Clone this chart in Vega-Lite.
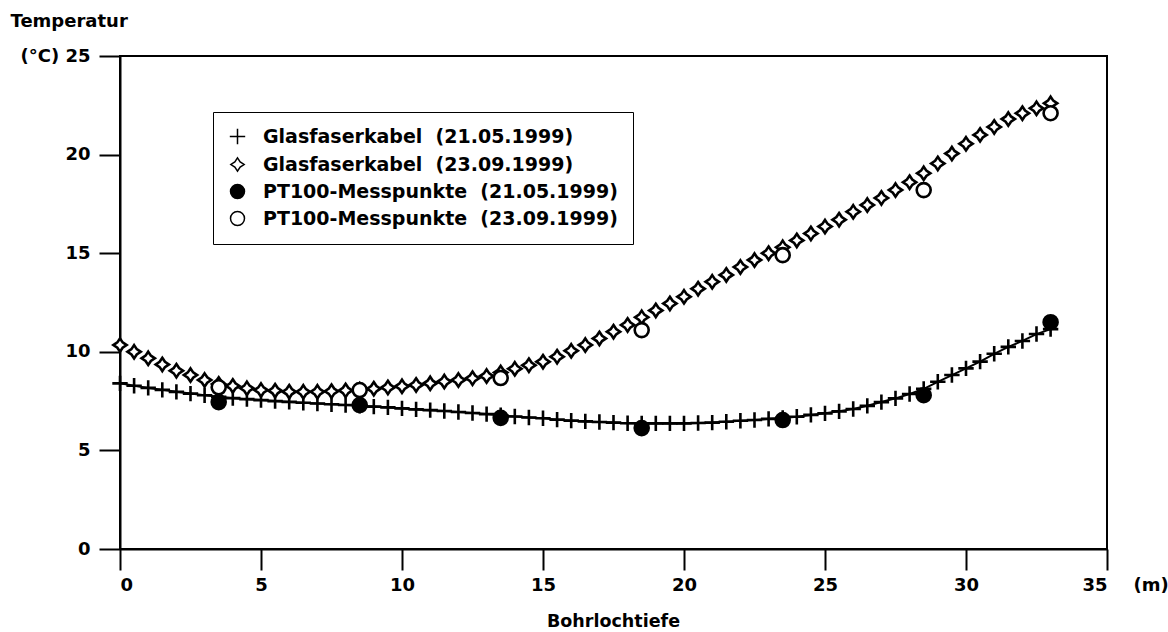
{
  "$schema": "https://vega.github.io/schema/vega-lite/v6.json",
  "autosize": "none",
  "width": 987,
  "height": 493,
  "padding": {"left": 120, "top": 56, "right": 61, "bottom": 83},
  "background": "white",
  "title": {"text": "Bohrlochtiefe", "orient": "bottom", "anchor": "middle", "font": "DejaVu Sans", "fontSize": 17.5, "fontWeight": "bold", "color": "black", "offset": 19},
  "config": {
    "view": {"stroke": "black", "strokeWidth": 2},
    "axis": {"grid": false, "domainColor": "black", "domainWidth": 2, "tickColor": "black", "tickWidth": 2, "tickSize": 21, "labelFont": "DejaVu Sans", "labelFontSize": 18, "labelFontWeight": "bold", "labelColor": "black", "titleFont": "DejaVu Sans", "titleFontSize": 18, "titleFontWeight": "bold", "titleColor": "black"}
  },
  "data": {"values": [
    {"tiefe": 0, "temp": 8.4, "serie": "Glasfaserkabel\u00a0 (21.05.1999)"},
    {"tiefe": 0.5, "temp": 8.28, "serie": "Glasfaserkabel\u00a0 (21.05.1999)"},
    {"tiefe": 1, "temp": 8.17, "serie": "Glasfaserkabel\u00a0 (21.05.1999)"},
    {"tiefe": 1.5, "temp": 8.07, "serie": "Glasfaserkabel\u00a0 (21.05.1999)"},
    {"tiefe": 2, "temp": 7.97, "serie": "Glasfaserkabel\u00a0 (21.05.1999)"},
    {"tiefe": 2.5, "temp": 7.88, "serie": "Glasfaserkabel\u00a0 (21.05.1999)"},
    {"tiefe": 3, "temp": 7.8, "serie": "Glasfaserkabel\u00a0 (21.05.1999)"},
    {"tiefe": 3.5, "temp": 7.72, "serie": "Glasfaserkabel\u00a0 (21.05.1999)"},
    {"tiefe": 4, "temp": 7.65, "serie": "Glasfaserkabel\u00a0 (21.05.1999)"},
    {"tiefe": 4.5, "temp": 7.6, "serie": "Glasfaserkabel\u00a0 (21.05.1999)"},
    {"tiefe": 5, "temp": 7.55, "serie": "Glasfaserkabel\u00a0 (21.05.1999)"},
    {"tiefe": 5.5, "temp": 7.5, "serie": "Glasfaserkabel\u00a0 (21.05.1999)"},
    {"tiefe": 6, "temp": 7.46, "serie": "Glasfaserkabel\u00a0 (21.05.1999)"},
    {"tiefe": 6.5, "temp": 7.42, "serie": "Glasfaserkabel\u00a0 (21.05.1999)"},
    {"tiefe": 7, "temp": 7.38, "serie": "Glasfaserkabel\u00a0 (21.05.1999)"},
    {"tiefe": 7.5, "temp": 7.34, "serie": "Glasfaserkabel\u00a0 (21.05.1999)"},
    {"tiefe": 8, "temp": 7.3, "serie": "Glasfaserkabel\u00a0 (21.05.1999)"},
    {"tiefe": 8.5, "temp": 7.26, "serie": "Glasfaserkabel\u00a0 (21.05.1999)"},
    {"tiefe": 9, "temp": 7.22, "serie": "Glasfaserkabel\u00a0 (21.05.1999)"},
    {"tiefe": 9.5, "temp": 7.18, "serie": "Glasfaserkabel\u00a0 (21.05.1999)"},
    {"tiefe": 10, "temp": 7.13, "serie": "Glasfaserkabel\u00a0 (21.05.1999)"},
    {"tiefe": 10.5, "temp": 7.08, "serie": "Glasfaserkabel\u00a0 (21.05.1999)"},
    {"tiefe": 11, "temp": 7.04, "serie": "Glasfaserkabel\u00a0 (21.05.1999)"},
    {"tiefe": 11.5, "temp": 7.0, "serie": "Glasfaserkabel\u00a0 (21.05.1999)"},
    {"tiefe": 12, "temp": 6.95, "serie": "Glasfaserkabel\u00a0 (21.05.1999)"},
    {"tiefe": 12.5, "temp": 6.9, "serie": "Glasfaserkabel\u00a0 (21.05.1999)"},
    {"tiefe": 13, "temp": 6.84, "serie": "Glasfaserkabel\u00a0 (21.05.1999)"},
    {"tiefe": 13.5, "temp": 6.78, "serie": "Glasfaserkabel\u00a0 (21.05.1999)"},
    {"tiefe": 14, "temp": 6.72, "serie": "Glasfaserkabel\u00a0 (21.05.1999)"},
    {"tiefe": 14.5, "temp": 6.67, "serie": "Glasfaserkabel\u00a0 (21.05.1999)"},
    {"tiefe": 15, "temp": 6.63, "serie": "Glasfaserkabel\u00a0 (21.05.1999)"},
    {"tiefe": 15.5, "temp": 6.56, "serie": "Glasfaserkabel\u00a0 (21.05.1999)"},
    {"tiefe": 16, "temp": 6.51, "serie": "Glasfaserkabel\u00a0 (21.05.1999)"},
    {"tiefe": 16.5, "temp": 6.47, "serie": "Glasfaserkabel\u00a0 (21.05.1999)"},
    {"tiefe": 17, "temp": 6.44, "serie": "Glasfaserkabel\u00a0 (21.05.1999)"},
    {"tiefe": 17.5, "temp": 6.41, "serie": "Glasfaserkabel\u00a0 (21.05.1999)"},
    {"tiefe": 18, "temp": 6.38, "serie": "Glasfaserkabel\u00a0 (21.05.1999)"},
    {"tiefe": 18.5, "temp": 6.37, "serie": "Glasfaserkabel\u00a0 (21.05.1999)"},
    {"tiefe": 19, "temp": 6.37, "serie": "Glasfaserkabel\u00a0 (21.05.1999)"},
    {"tiefe": 19.5, "temp": 6.37, "serie": "Glasfaserkabel\u00a0 (21.05.1999)"},
    {"tiefe": 20, "temp": 6.37, "serie": "Glasfaserkabel\u00a0 (21.05.1999)"},
    {"tiefe": 20.5, "temp": 6.39, "serie": "Glasfaserkabel\u00a0 (21.05.1999)"},
    {"tiefe": 21, "temp": 6.41, "serie": "Glasfaserkabel\u00a0 (21.05.1999)"},
    {"tiefe": 21.5, "temp": 6.45, "serie": "Glasfaserkabel\u00a0 (21.05.1999)"},
    {"tiefe": 22, "temp": 6.5, "serie": "Glasfaserkabel\u00a0 (21.05.1999)"},
    {"tiefe": 22.5, "temp": 6.54, "serie": "Glasfaserkabel\u00a0 (21.05.1999)"},
    {"tiefe": 23, "temp": 6.6, "serie": "Glasfaserkabel\u00a0 (21.05.1999)"},
    {"tiefe": 23.5, "temp": 6.64, "serie": "Glasfaserkabel\u00a0 (21.05.1999)"},
    {"tiefe": 24, "temp": 6.71, "serie": "Glasfaserkabel\u00a0 (21.05.1999)"},
    {"tiefe": 24.5, "temp": 6.8, "serie": "Glasfaserkabel\u00a0 (21.05.1999)"},
    {"tiefe": 25, "temp": 6.88, "serie": "Glasfaserkabel\u00a0 (21.05.1999)"},
    {"tiefe": 25.5, "temp": 6.98, "serie": "Glasfaserkabel\u00a0 (21.05.1999)"},
    {"tiefe": 26, "temp": 7.1, "serie": "Glasfaserkabel\u00a0 (21.05.1999)"},
    {"tiefe": 26.5, "temp": 7.26, "serie": "Glasfaserkabel\u00a0 (21.05.1999)"},
    {"tiefe": 27, "temp": 7.45, "serie": "Glasfaserkabel\u00a0 (21.05.1999)"},
    {"tiefe": 27.5, "temp": 7.64, "serie": "Glasfaserkabel\u00a0 (21.05.1999)"},
    {"tiefe": 28, "temp": 7.86, "serie": "Glasfaserkabel\u00a0 (21.05.1999)"},
    {"tiefe": 28.5, "temp": 8.12, "serie": "Glasfaserkabel\u00a0 (21.05.1999)"},
    {"tiefe": 29, "temp": 8.48, "serie": "Glasfaserkabel\u00a0 (21.05.1999)"},
    {"tiefe": 29.5, "temp": 8.82, "serie": "Glasfaserkabel\u00a0 (21.05.1999)"},
    {"tiefe": 30, "temp": 9.16, "serie": "Glasfaserkabel\u00a0 (21.05.1999)"},
    {"tiefe": 30.5, "temp": 9.5, "serie": "Glasfaserkabel\u00a0 (21.05.1999)"},
    {"tiefe": 31, "temp": 9.9, "serie": "Glasfaserkabel\u00a0 (21.05.1999)"},
    {"tiefe": 31.5, "temp": 10.25, "serie": "Glasfaserkabel\u00a0 (21.05.1999)"},
    {"tiefe": 32, "temp": 10.55, "serie": "Glasfaserkabel\u00a0 (21.05.1999)"},
    {"tiefe": 32.5, "temp": 10.9, "serie": "Glasfaserkabel\u00a0 (21.05.1999)"},
    {"tiefe": 33, "temp": 11.15, "serie": "Glasfaserkabel\u00a0 (21.05.1999)"},
    {"tiefe": 0, "temp": 10.34, "serie": "Glasfaserkabel\u00a0 (23.09.1999)"},
    {"tiefe": 0.5, "temp": 10.0, "serie": "Glasfaserkabel\u00a0 (23.09.1999)"},
    {"tiefe": 1, "temp": 9.67, "serie": "Glasfaserkabel\u00a0 (23.09.1999)"},
    {"tiefe": 1.5, "temp": 9.36, "serie": "Glasfaserkabel\u00a0 (23.09.1999)"},
    {"tiefe": 2, "temp": 9.04, "serie": "Glasfaserkabel\u00a0 (23.09.1999)"},
    {"tiefe": 2.5, "temp": 8.82, "serie": "Glasfaserkabel\u00a0 (23.09.1999)"},
    {"tiefe": 3, "temp": 8.57, "serie": "Glasfaserkabel\u00a0 (23.09.1999)"},
    {"tiefe": 3.5, "temp": 8.37, "serie": "Glasfaserkabel\u00a0 (23.09.1999)"},
    {"tiefe": 4, "temp": 8.27, "serie": "Glasfaserkabel\u00a0 (23.09.1999)"},
    {"tiefe": 4.5, "temp": 8.15, "serie": "Glasfaserkabel\u00a0 (23.09.1999)"},
    {"tiefe": 5, "temp": 8.06, "serie": "Glasfaserkabel\u00a0 (23.09.1999)"},
    {"tiefe": 5.5, "temp": 8.03, "serie": "Glasfaserkabel\u00a0 (23.09.1999)"},
    {"tiefe": 6, "temp": 7.98, "serie": "Glasfaserkabel\u00a0 (23.09.1999)"},
    {"tiefe": 6.5, "temp": 7.97, "serie": "Glasfaserkabel\u00a0 (23.09.1999)"},
    {"tiefe": 7, "temp": 7.97, "serie": "Glasfaserkabel\u00a0 (23.09.1999)"},
    {"tiefe": 7.5, "temp": 8.0, "serie": "Glasfaserkabel\u00a0 (23.09.1999)"},
    {"tiefe": 8, "temp": 8.04, "serie": "Glasfaserkabel\u00a0 (23.09.1999)"},
    {"tiefe": 8.5, "temp": 8.08, "serie": "Glasfaserkabel\u00a0 (23.09.1999)"},
    {"tiefe": 9, "temp": 8.13, "serie": "Glasfaserkabel\u00a0 (23.09.1999)"},
    {"tiefe": 9.5, "temp": 8.19, "serie": "Glasfaserkabel\u00a0 (23.09.1999)"},
    {"tiefe": 10, "temp": 8.25, "serie": "Glasfaserkabel\u00a0 (23.09.1999)"},
    {"tiefe": 10.5, "temp": 8.32, "serie": "Glasfaserkabel\u00a0 (23.09.1999)"},
    {"tiefe": 11, "temp": 8.4, "serie": "Glasfaserkabel\u00a0 (23.09.1999)"},
    {"tiefe": 11.5, "temp": 8.49, "serie": "Glasfaserkabel\u00a0 (23.09.1999)"},
    {"tiefe": 12, "temp": 8.57, "serie": "Glasfaserkabel\u00a0 (23.09.1999)"},
    {"tiefe": 12.5, "temp": 8.66, "serie": "Glasfaserkabel\u00a0 (23.09.1999)"},
    {"tiefe": 13, "temp": 8.77, "serie": "Glasfaserkabel\u00a0 (23.09.1999)"},
    {"tiefe": 13.5, "temp": 8.95, "serie": "Glasfaserkabel\u00a0 (23.09.1999)"},
    {"tiefe": 14, "temp": 9.14, "serie": "Glasfaserkabel\u00a0 (23.09.1999)"},
    {"tiefe": 14.5, "temp": 9.32, "serie": "Glasfaserkabel\u00a0 (23.09.1999)"},
    {"tiefe": 15, "temp": 9.5, "serie": "Glasfaserkabel\u00a0 (23.09.1999)"},
    {"tiefe": 15.5, "temp": 9.75, "serie": "Glasfaserkabel\u00a0 (23.09.1999)"},
    {"tiefe": 16, "temp": 10.05, "serie": "Glasfaserkabel\u00a0 (23.09.1999)"},
    {"tiefe": 16.5, "temp": 10.34, "serie": "Glasfaserkabel\u00a0 (23.09.1999)"},
    {"tiefe": 17, "temp": 10.68, "serie": "Glasfaserkabel\u00a0 (23.09.1999)"},
    {"tiefe": 17.5, "temp": 11.02, "serie": "Glasfaserkabel\u00a0 (23.09.1999)"},
    {"tiefe": 18, "temp": 11.36, "serie": "Glasfaserkabel\u00a0 (23.09.1999)"},
    {"tiefe": 18.5, "temp": 11.75, "serie": "Glasfaserkabel\u00a0 (23.09.1999)"},
    {"tiefe": 19, "temp": 12.1, "serie": "Glasfaserkabel\u00a0 (23.09.1999)"},
    {"tiefe": 19.5, "temp": 12.45, "serie": "Glasfaserkabel\u00a0 (23.09.1999)"},
    {"tiefe": 20, "temp": 12.79, "serie": "Glasfaserkabel\u00a0 (23.09.1999)"},
    {"tiefe": 20.5, "temp": 13.2, "serie": "Glasfaserkabel\u00a0 (23.09.1999)"},
    {"tiefe": 21, "temp": 13.55, "serie": "Glasfaserkabel\u00a0 (23.09.1999)"},
    {"tiefe": 21.5, "temp": 13.9, "serie": "Glasfaserkabel\u00a0 (23.09.1999)"},
    {"tiefe": 22, "temp": 14.3, "serie": "Glasfaserkabel\u00a0 (23.09.1999)"},
    {"tiefe": 22.5, "temp": 14.65, "serie": "Glasfaserkabel\u00a0 (23.09.1999)"},
    {"tiefe": 23, "temp": 15.0, "serie": "Glasfaserkabel\u00a0 (23.09.1999)"},
    {"tiefe": 23.5, "temp": 15.3, "serie": "Glasfaserkabel\u00a0 (23.09.1999)"},
    {"tiefe": 24, "temp": 15.65, "serie": "Glasfaserkabel\u00a0 (23.09.1999)"},
    {"tiefe": 24.5, "temp": 16.0, "serie": "Glasfaserkabel\u00a0 (23.09.1999)"},
    {"tiefe": 25, "temp": 16.35, "serie": "Glasfaserkabel\u00a0 (23.09.1999)"},
    {"tiefe": 25.5, "temp": 16.7, "serie": "Glasfaserkabel\u00a0 (23.09.1999)"},
    {"tiefe": 26, "temp": 17.1, "serie": "Glasfaserkabel\u00a0 (23.09.1999)"},
    {"tiefe": 26.5, "temp": 17.44, "serie": "Glasfaserkabel\u00a0 (23.09.1999)"},
    {"tiefe": 27, "temp": 17.8, "serie": "Glasfaserkabel\u00a0 (23.09.1999)"},
    {"tiefe": 27.5, "temp": 18.2, "serie": "Glasfaserkabel\u00a0 (23.09.1999)"},
    {"tiefe": 28, "temp": 18.6, "serie": "Glasfaserkabel\u00a0 (23.09.1999)"},
    {"tiefe": 28.5, "temp": 19.05, "serie": "Glasfaserkabel\u00a0 (23.09.1999)"},
    {"tiefe": 29, "temp": 19.55, "serie": "Glasfaserkabel\u00a0 (23.09.1999)"},
    {"tiefe": 29.5, "temp": 20.05, "serie": "Glasfaserkabel\u00a0 (23.09.1999)"},
    {"tiefe": 30, "temp": 20.55, "serie": "Glasfaserkabel\u00a0 (23.09.1999)"},
    {"tiefe": 30.5, "temp": 21.0, "serie": "Glasfaserkabel\u00a0 (23.09.1999)"},
    {"tiefe": 31, "temp": 21.4, "serie": "Glasfaserkabel\u00a0 (23.09.1999)"},
    {"tiefe": 31.5, "temp": 21.8, "serie": "Glasfaserkabel\u00a0 (23.09.1999)"},
    {"tiefe": 32, "temp": 22.1, "serie": "Glasfaserkabel\u00a0 (23.09.1999)"},
    {"tiefe": 32.5, "temp": 22.35, "serie": "Glasfaserkabel\u00a0 (23.09.1999)"},
    {"tiefe": 33, "temp": 22.6, "serie": "Glasfaserkabel\u00a0 (23.09.1999)"},
    {"tiefe": 3.5, "temp": 7.45, "serie": "PT100-Messpunkte\u00a0 (21.05.1999)"},
    {"tiefe": 8.5, "temp": 7.3, "serie": "PT100-Messpunkte\u00a0 (21.05.1999)"},
    {"tiefe": 13.5, "temp": 6.65, "serie": "PT100-Messpunkte\u00a0 (21.05.1999)"},
    {"tiefe": 18.5, "temp": 6.13, "serie": "PT100-Messpunkte\u00a0 (21.05.1999)"},
    {"tiefe": 23.5, "temp": 6.54, "serie": "PT100-Messpunkte\u00a0 (21.05.1999)"},
    {"tiefe": 28.5, "temp": 7.8, "serie": "PT100-Messpunkte\u00a0 (21.05.1999)"},
    {"tiefe": 33, "temp": 11.5, "serie": "PT100-Messpunkte\u00a0 (21.05.1999)"},
    {"tiefe": 3.5, "temp": 8.2, "serie": "PT100-Messpunkte\u00a0 (23.09.1999)"},
    {"tiefe": 8.5, "temp": 8.06, "serie": "PT100-Messpunkte\u00a0 (23.09.1999)"},
    {"tiefe": 13.5, "temp": 8.67, "serie": "PT100-Messpunkte\u00a0 (23.09.1999)"},
    {"tiefe": 18.5, "temp": 11.1, "serie": "PT100-Messpunkte\u00a0 (23.09.1999)"},
    {"tiefe": 23.5, "temp": 14.9, "serie": "PT100-Messpunkte\u00a0 (23.09.1999)"},
    {"tiefe": 28.5, "temp": 18.2, "serie": "PT100-Messpunkte\u00a0 (23.09.1999)"},
    {"tiefe": 33, "temp": 22.1, "serie": "PT100-Messpunkte\u00a0 (23.09.1999)"}
  ]},
  "encoding": {
    "x": {"field": "tiefe", "type": "quantitative", "scale": {"domain": [0, 35], "nice": false, "zero": false},
      "axis": {"values": [0, 5, 10, 15, 20, 25, 30, 35], "labelPadding": 6, "title": "(m)", "titleX": 1013, "titleY": 41, "titleAlign": "left", "titleBaseline": "alphabetic", "titleAngle": 0}},
    "y": {"field": "temp", "type": "quantitative", "scale": {"domain": [0, 25], "nice": false},
      "axis": {"values": [0, 5, 10, 15, 20, 25], "labelPadding": 9, "labelExpr": "datum.value == 25 ? '(°C) 25' : datum.label", "title": "Temperatur", "titleX": -110, "titleY": -30, "titleAlign": "left", "titleBaseline": "alphabetic", "titleAngle": 0}}
  },
  "layer": [
    {
      "transform": [{"filter": "indexof(datum.serie, 'Glasfaserkabel') == 0 && indexof(datum.serie, '21.05') > 0"}],
      "mark": {"type": "line", "color": "black", "strokeWidth": 2},
      "encoding": {}
    },
    {
      "mark": {"type": "point", "size": 196, "strokeWidth": 2.6, "opacity": 1, "stroke": "black"},
      "encoding": {
        "shape": {"field": "serie", "type": "nominal",
          "scale": {"domain": ["Glasfaserkabel\u00a0 (21.05.1999)", "Glasfaserkabel\u00a0 (23.09.1999)", "PT100-Messpunkte\u00a0 (21.05.1999)", "PT100-Messpunkte\u00a0 (23.09.1999)"],
            "range": ["M-1.1,0L1.1,0M0,-1.1L0,1.1", "M0,-0.95L0.38,-0.38L0.95,0L0.38,0.38L0,0.95L-0.38,0.38L-0.95,0L-0.38,-0.38Z", "circle", "circle"]},
          "legend": {"title": null, "orient": "none", "legendX": 93, "legendY": 56, "fillColor": "white", "strokeColor": "black", "padding": 15, "labelFont": "DejaVu Sans", "labelFontSize": 19, "labelFontWeight": "bold", "labelColor": "black", "labelOffset": 16, "symbolSize": 196, "rowPadding": 6, "labelLimit": 600,
            "encode": {"legend": {"update": {"strokeWidth": {"value": 2}}}, "symbols": {"update": {"stroke": {"value": "black"}, "strokeWidth": {"value": 2.6}, "opacity": {"value": 1}}}}}},
        "fill": {"field": "serie", "type": "nominal",
          "scale": {"domain": ["Glasfaserkabel\u00a0 (21.05.1999)", "Glasfaserkabel\u00a0 (23.09.1999)", "PT100-Messpunkte\u00a0 (21.05.1999)", "PT100-Messpunkte\u00a0 (23.09.1999)"],
            "range": ["transparent", "white", "black", "white"]},
          "legend": {"title": null, "orient": "none", "legendX": 93, "legendY": 56, "fillColor": "white", "strokeColor": "black", "padding": 15, "labelFont": "DejaVu Sans", "labelFontSize": 19, "labelFontWeight": "bold", "labelColor": "black", "labelOffset": 16, "symbolSize": 196, "rowPadding": 6, "labelLimit": 600,
            "encode": {"legend": {"update": {"strokeWidth": {"value": 2}}}, "symbols": {"update": {"stroke": {"value": "black"}, "strokeWidth": {"value": 2.6}, "opacity": {"value": 1}}}}}}
      }
    }
  ]
}
